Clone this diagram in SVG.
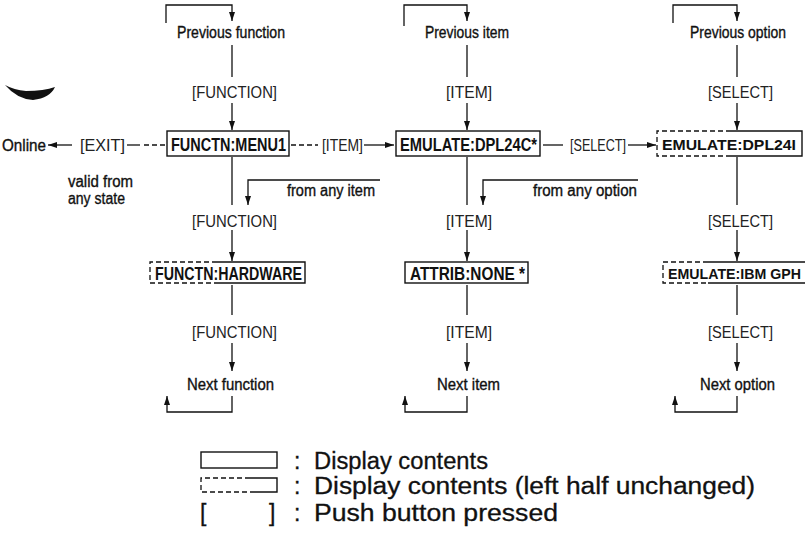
<svg xmlns="http://www.w3.org/2000/svg" width="805" height="541" viewBox="0 0 805 541">
<defs>
<marker id="ah" viewBox="0 0 9 6" markerWidth="9" markerHeight="6" refX="9" refY="3" orient="auto" markerUnits="userSpaceOnUse">
<path d="M0,0 L9,3 L0,6 z" fill="#111"/>
</marker>
</defs>
<style>
.ln{fill:none;stroke:#111;stroke-width:1.3}
.ar{fill:none;stroke:#111;stroke-width:1.3;marker-end:url(#ah)}
.ds{fill:none;stroke:#111;stroke-width:1.3;stroke-dasharray:5,3}
.bx{fill:none;stroke:#111;stroke-width:1.4}
.lb{font-family:"Liberation Sans",Arial,sans-serif;font-size:16px;fill:#111;stroke:#111;stroke-width:0.35}
.bt{font-family:"Liberation Sans",Arial,sans-serif;font-size:17px;fill:#222}
.nt{font-family:"Liberation Sans",Arial,sans-serif;font-size:18px;font-weight:bold;fill:#111}
.lg{font-family:"Liberation Sans",Arial,sans-serif;font-size:23px;fill:#111;stroke:#111;stroke-width:0.3}
</style>
<rect width="805" height="541" fill="#fff"/>
<path d="M5,85 Q14,90 26,91 Q44,91 55,87 Q50,98 33,100 Q17,99 5,85 Z" fill="#111"/>

<g id="connectors">
<path class="ar" d="M166,23 V5 H232 V21"/>
<path class="ln" d="M232,45 V77"/>
<path class="ar" d="M232,103 V130"/>
<path class="ln" d="M232,157 V205"/>
<path class="ar" d="M380,180 H248 V205"/>
<path class="ar" d="M232,230 V261"/>
<path class="ln" d="M232,285 V315"/>
<path class="ar" d="M232,343 V371"/>
<path class="ar" d="M232,396 V412 H167 V396"/>

<path class="ar" d="M404,26 V5 H467 V21"/>
<path class="ln" d="M467,45 V77"/>
<path class="ar" d="M467,103 V130"/>
<path class="ln" d="M467,157 V205"/>
<path class="ar" d="M638,180 H483 V205"/>
<path class="ar" d="M467,230 V261"/>
<path class="ln" d="M467,285 V315"/>
<path class="ar" d="M467,343 V371"/>
<path class="ar" d="M467,396 V412 H405 V396"/>

<path class="ar" d="M673,23 V5 H737 V21"/>
<path class="ln" d="M737,45 V77"/>
<path class="ar" d="M737,103 V130"/>
<path class="ln" d="M737,157 V205"/>
<path class="ar" d="M737,230 V261"/>
<path class="ln" d="M737,285 V315"/>
<path class="ar" d="M737,343 V371"/>
<path class="ar" d="M737,396 V412 H675 V396"/>

<path class="ar" d="M72,145 H48"/>
<path class="ln" d="M127,145 H140"/>
<path class="ds" d="M144,145 H166"/>
<path class="ds" d="M291,145 H318"/>
<path class="ar" d="M364,145 H394"/>
<path class="ln" d="M543,145 H563"/>
<path class="ar" d="M628,145 H656"/>
</g>

<g id="labels">
<text class="lb" x="177" y="38" textLength="108" lengthAdjust="spacingAndGlyphs">Previous function</text>
<text class="lb" x="425" y="38" textLength="84" lengthAdjust="spacingAndGlyphs">Previous item</text>
<text class="lb" x="690" y="38" textLength="96" lengthAdjust="spacingAndGlyphs">Previous option</text>
<text class="bt" x="192" y="98" textLength="85" lengthAdjust="spacingAndGlyphs">[FUNCTION]</text>
<text class="bt" x="446" y="98" textLength="46" lengthAdjust="spacingAndGlyphs">[ITEM]</text>
<text class="bt" x="708" y="98" textLength="65" lengthAdjust="spacingAndGlyphs">[SELECT]</text>
<text class="lb" x="2" y="151" textLength="44" lengthAdjust="spacingAndGlyphs">Online</text>
<text class="bt" x="80" y="151" textLength="45" lengthAdjust="spacingAndGlyphs">[EXIT]</text>
<text class="bt" x="322" y="151" textLength="41" lengthAdjust="spacingAndGlyphs">[ITEM]</text>
<text class="bt" x="570" y="151" textLength="56" lengthAdjust="spacingAndGlyphs">[SELECT]</text>
<text class="lb" x="68" y="187" textLength="65" lengthAdjust="spacingAndGlyphs">valid from</text>
<text class="lb" x="68" y="204" textLength="57" lengthAdjust="spacingAndGlyphs">any state</text>
<text class="lb" x="287" y="196" textLength="88" lengthAdjust="spacingAndGlyphs">from any item</text>
<text class="lb" x="533" y="196" textLength="104" lengthAdjust="spacingAndGlyphs">from any option</text>
<text class="bt" x="192" y="227" textLength="85" lengthAdjust="spacingAndGlyphs">[FUNCTION]</text>
<text class="bt" x="446" y="227" textLength="46" lengthAdjust="spacingAndGlyphs">[ITEM]</text>
<text class="bt" x="708" y="227" textLength="65" lengthAdjust="spacingAndGlyphs">[SELECT]</text>
<text class="bt" x="192" y="338" textLength="85" lengthAdjust="spacingAndGlyphs">[FUNCTION]</text>
<text class="bt" x="446" y="338" textLength="46" lengthAdjust="spacingAndGlyphs">[ITEM]</text>
<text class="bt" x="708" y="338" textLength="65" lengthAdjust="spacingAndGlyphs">[SELECT]</text>
<text class="lb" x="187" y="390" textLength="87" lengthAdjust="spacingAndGlyphs">Next function</text>
<text class="lb" x="437" y="390" textLength="63" lengthAdjust="spacingAndGlyphs">Next item</text>
<text class="lb" x="700" y="390" textLength="75" lengthAdjust="spacingAndGlyphs">Next option</text>
</g>

<g id="node-menu1">
<rect class="bx" x="167" y="131" width="122" height="25"/>
<text class="nt" x="171" y="151" textLength="115" lengthAdjust="spacingAndGlyphs">FUNCTN:MENU1</text>
</g>
<g id="node-dpl24c">
<rect class="bx" x="396" y="131" width="144" height="25"/>
<text class="nt" x="400" y="151" textLength="137" lengthAdjust="spacingAndGlyphs">EMULATE:DPL24C*</text>
</g>
<g id="node-dpl24i">
<path class="ds" d="M731,131 H657 V156 H731"/>
<path class="bx" d="M731,131 H802 V156 H731"/>
<text class="nt" x="662" y="150" style="font-size:15.5px" textLength="134" lengthAdjust="spacingAndGlyphs">EMULATE:DPL24I</text>
</g>
<g id="node-hardware">
<path class="ds" d="M217,262 H150 V283 H217"/>
<path class="bx" d="M217,262 H305 V283 H217"/>
<text class="nt" x="155" y="280" textLength="147" lengthAdjust="spacingAndGlyphs">FUNCTN:HARDWARE</text>
</g>
<g id="node-attrib">
<rect class="bx" x="405" y="262" width="123" height="21"/>
<text class="nt" x="410" y="280" textLength="115" lengthAdjust="spacingAndGlyphs">ATTRIB:NONE *</text>
</g>
<g id="node-ibmgph">
<path class="ds" d="M708,262 H663 V283 H708"/>
<path class="bx" d="M708,262 H805 M708,283 H805"/>
<text class="nt" x="668" y="279" style="font-size:14.2px" textLength="133" lengthAdjust="spacingAndGlyphs">EMULATE:IBM GPH</text>
</g>

<g id="legend">
<rect class="bx" x="201" y="452" width="76" height="16"/>
<path class="ds" d="M250,478 H201 V492 H250"/>
<path class="bx" d="M250,478 H277 V492 H250"/>
<text class="lg" x="200" y="521">[</text>
<text class="lg" x="269" y="521">]</text>
<text class="lg" x="294" y="469">:</text>
<text class="lg" x="294" y="494">:</text>
<text class="lg" x="294" y="521">:</text>
<text class="lg" x="314" y="469" textLength="174" lengthAdjust="spacingAndGlyphs">Display contents</text>
<text class="lg" x="314" y="494" textLength="441" lengthAdjust="spacingAndGlyphs">Display contents (left half unchanged)</text>
<text class="lg" x="314" y="521" textLength="244" lengthAdjust="spacingAndGlyphs">Push button pressed</text>
</g>
</svg>
